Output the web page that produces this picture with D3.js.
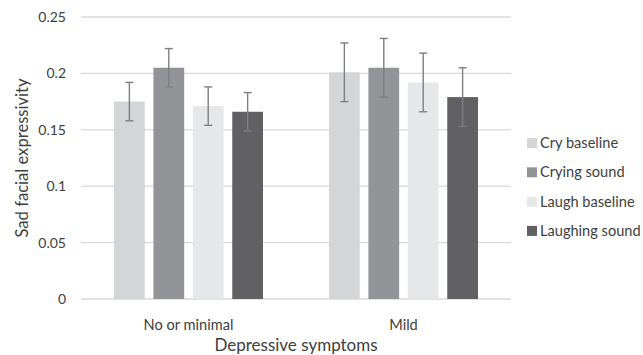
<!DOCTYPE html>
<html>
<head>
<meta charset="utf-8">
<script src="https://cdn.jsdelivr.net/npm/d3@7"></script>
<style>
  body { margin: 0; background: #fff; }
  text { font-family: Lato, "Open Sans", sans-serif; fill: #404040; }
</style>
</head>
<body>
<script>
// bar chart with error bars
const width = 643;
const height = 355;

const categories = ['No or minimal', 'Mild'];
const series = ['Cry baseline', 'Crying sound', 'Laugh baseline', 'Laughing sound'];
const colors = ['#d4d5d7', '#939497', '#e6e7e8', '#616163'];
// values per series, one entry per category
const means = [
    [0.175, 0.201],
    [0.205, 0.205],
    [0.171, 0.192],
    [0.166, 0.179]
];
const errLow = [
    [0.158, 0.175],
    [0.188, 0.179],
    [0.154, 0.166],
    [0.149, 0.153]
];
const errHigh = [
    [0.192, 0.227],
    [0.222, 0.231],
    [0.188, 0.218],
    [0.183, 0.205]
];
const yTicks = [0, 0.05, 0.1, 0.15, 0.2, 0.25];

const margin = {top: 17, left: 81, right: 132, bottom: 56};

const x = d3.scaleBand()
    .domain(categories)
    .range([margin.left, width - margin.right]);

const xs = d3.scaleBand()
    .domain(series)
    .range([0, 149])
    .paddingInner(0.22);

const y = d3.scaleLinear()
    .domain([0, 0.25])
    .range([height - margin.bottom, margin.top]);

const svg = d3.select('body')
    .append('svg')
    .attr('width', width)
    .attr('height', height);

// gridlines
svg.append('g')
    .selectAll('line')
    .data(yTicks)
    .enter().append('line')
    .attr('x1', margin.left)
    .attr('x2', width - margin.right)
    .attr('y1', d => y(d))
    .attr('y2', d => y(d))
    .attr('stroke', '#d9d9d9')
    .attr('stroke-width', 1.3);

// y axis labels
svg.append('g')
    .selectAll('text')
    .data(yTicks)
    .enter().append('text')
    .attr('x', margin.left - 15)
    .attr('y', d => y(d))
    .attr('dy', '0.35em')
    .attr('text-anchor', 'end')
    .style('font-size', '14px')
    .text(d => d === 0 ? '0' : String(d));

const rows = [];
series.forEach((s, i) => {
    categories.forEach((c, j) => {
        rows.push({s, c, i, v: means[i][j], lo: errLow[i][j], hi: errHigh[i][j]});
    });
});

const groupOffset = c => x(c) + (x.bandwidth() - 149) / 2;

svg.append('g')
    .selectAll('rect')
    .data(rows)
    .enter().append('rect')
    .attr('x', d => groupOffset(d.c) + xs(d.s))
    .attr('width', xs.bandwidth())
    .attr('y', d => y(d.v))
    .attr('height', d => y(0) - y(d.v))
    .attr('fill', d => colors[d.i]);

// error bars
const eb = svg.append('g')
    .attr('stroke', '#7f7f7f')
    .attr('stroke-width', 1.4);

const cx = d => groupOffset(d.c) + xs(d.s) + xs.bandwidth() / 2;

eb.selectAll('.v')
    .data(rows)
    .enter().append('line')
    .attr('x1', cx).attr('x2', cx)
    .attr('y1', d => y(d.lo)).attr('y2', d => y(d.hi));

eb.selectAll('.top')
    .data(rows)
    .enter().append('line')
    .attr('x1', d => cx(d) - 4).attr('x2', d => cx(d) + 4)
    .attr('y1', d => y(d.hi)).attr('y2', d => y(d.hi));

eb.selectAll('.bot')
    .data(rows)
    .enter().append('line')
    .attr('x1', d => cx(d) - 4).attr('x2', d => cx(d) + 4)
    .attr('y1', d => y(d.lo)).attr('y2', d => y(d.lo));

// category labels
svg.append('g')
    .selectAll('text')
    .data(categories)
    .enter().append('text')
    .attr('x', d => x(d) + x.bandwidth() / 2)
    .attr('y', 325)
    .attr('dy', '0.35em')
    .attr('text-anchor', 'middle')
    .style('font-size', '14.6px')
    .text(d => d);

// axis titles
svg.append('text')
    .attr('x', (margin.left + width - margin.right) / 2)
    .attr('y', 345)
    .attr('dy', '0.35em')
    .attr('text-anchor', 'middle')
    .style('font-size', '17px')
    .text('Depressive symptoms');

svg.append('text')
    .attr('transform', `translate(22, ${(margin.top + height - margin.bottom) / 2}) rotate(-90)`)
    .attr('dy', '0.35em')
    .attr('text-anchor', 'middle')
    .style('font-size', '16.6px')
    .text('Sad facial expressivity');

// legend
const legend = svg.append('g')
    .selectAll('g')
    .data(series)
    .enter().append('g')
    .attr('transform', (d, i) => `translate(527, ${143 + i * 29.3})`);

legend.append('rect')
    .attr('x', 0)
    .attr('y', -5)
    .attr('width', 10)
    .attr('height', 10)
    .attr('fill', (d, i) => colors[i]);

legend.append('text')
    .attr('x', 13)
    .attr('dy', '0.35em')
    .style('font-size', '14.6px')
    .text(d => d);
</script>
</body>
</html>
